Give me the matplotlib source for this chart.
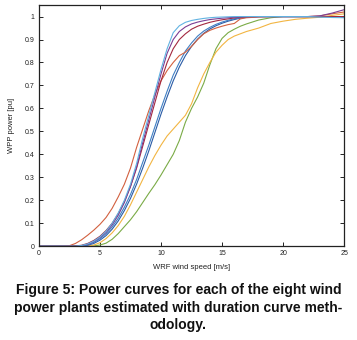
import matplotlib
matplotlib.use("Agg")
import matplotlib.pyplot as plt

plt.rcParams['font.family'] = ['Liberation Sans', 'DejaVu Sans']

wind_speed = [0, 2, 2.5, 3, 3.5, 4, 4.5, 5, 5.5, 6, 6.5, 7, 7.5, 8, 8.5, 9, 9.5, 10,
              10.5, 11, 11.5, 12, 12.5, 13, 13.5, 14, 14.5, 15, 15.5, 16, 16.5, 17,
              18, 19, 20, 21, 22, 23, 24, 25]

power_brick_red = [0, 0, 0.002, 0.012, 0.028, 0.048, 0.07, 0.095, 0.125, 0.165, 0.215, 0.27,
                   0.34, 0.43, 0.51, 0.59, 0.66, 0.72, 0.765, 0.8, 0.83, 0.845, 0.87, 0.9,
                   0.925, 0.94, 0.95, 0.958, 0.965, 0.97, 0.99, 0.995, 0.998, 1.0, 1.0, 1.0,
                   1.0, 1.003, 1.012, 1.02]
power_light_blue = [0, 0, 0, 0, 0.003, 0.01, 0.022, 0.04, 0.065, 0.1, 0.145, 0.2, 0.27, 0.36,
                    0.47, 0.57, 0.67, 0.77, 0.86, 0.93, 0.96, 0.975, 0.983, 0.988, 0.992,
                    0.995, 0.997, 0.998, 0.999, 1.0, 1.0, 1.0, 1.0, 1.0, 1.0, 1.0, 1.0, 0.998,
                    0.996, 0.995]
power_purple = [0, 0, 0, 0, 0.002, 0.008, 0.02, 0.037, 0.06, 0.093, 0.135, 0.19, 0.26, 0.345,
                0.45, 0.55, 0.65, 0.75, 0.84, 0.9, 0.935, 0.955, 0.968, 0.976, 0.982, 0.987,
                0.99, 0.993, 0.995, 0.997, 0.998, 1.0, 1.0, 1.0, 1.0, 1.0, 1.0, 1.003, 1.015,
                1.03]
power_dark_red = [0, 0, 0, 0.001, 0.004, 0.012, 0.025, 0.043, 0.068, 0.1, 0.142, 0.195, 0.26,
                  0.34, 0.435, 0.53, 0.625, 0.72, 0.8, 0.86, 0.9, 0.925, 0.945, 0.958, 0.967,
                  0.975, 0.981, 0.986, 0.99, 0.994, 0.997, 0.999, 1.0, 1.0, 1.0, 1.0, 1.0,
                  1.0, 1.0, 1.0]
power_blue = [0, 0, 0, 0, 0.001, 0.006, 0.016, 0.032, 0.054, 0.084, 0.122, 0.17, 0.225, 0.29,
              0.365, 0.44, 0.52, 0.6, 0.675, 0.745, 0.8, 0.85, 0.885, 0.915, 0.937, 0.953,
              0.966, 0.976, 0.984, 0.99, 0.995, 0.998, 1.0, 1.0, 1.0, 1.0, 1.0, 1.0, 1.0, 1.0]
power_dark_blue = [0, 0, 0, 0, 0, 0.004, 0.012, 0.026, 0.046, 0.074, 0.11, 0.155, 0.208, 0.27,
                   0.34, 0.415, 0.495, 0.575, 0.65, 0.72, 0.78, 0.83, 0.87, 0.902, 0.927,
                   0.946, 0.96, 0.971, 0.98, 0.987, 0.993, 0.997, 1.0, 1.0, 1.0, 1.0, 1.0, 1.0,
                   1.0, 1.0]
power_orange = [0, 0, 0, 0, 0, 0.001, 0.005, 0.015, 0.033, 0.058, 0.09, 0.13, 0.18, 0.235,
                0.29, 0.345, 0.395, 0.44, 0.48, 0.51, 0.54, 0.57, 0.62, 0.69, 0.75, 0.8,
                0.845, 0.875, 0.9, 0.915, 0.925, 0.935, 0.95, 0.97, 0.98, 0.988, 0.993, 0.997,
                1.005, 1.012]
power_green = [0, 0, 0, 0, 0, 0, 0.001, 0.005, 0.013, 0.03, 0.055, 0.085, 0.115, 0.15, 0.19,
               0.23, 0.268, 0.31, 0.355, 0.4, 0.46, 0.54, 0.6, 0.65, 0.71, 0.79, 0.86, 0.905,
               0.93, 0.945, 0.958, 0.968, 0.985, 0.995, 1.0, 1.0, 1.0, 1.0, 1.0, 1.0]

series = [
    (power_green, '#7aab46'),
    (power_orange, '#f2b542'),
    (power_dark_blue, '#2b5ca6'),
    (power_blue, '#3f7fc4'),
    (power_brick_red, '#d2603f'),
    (power_dark_red, '#a3283f'),
    (power_purple, '#7b3d93'),
    (power_light_blue, '#62b3e2'),
]

x_ticks = [0, 5, 10, 15, 20, 25]
y_ticks = [0, 0.1, 0.2, 0.3, 0.4, 0.5, 0.6, 0.7, 0.8, 0.9, 1]
y_tick_labels = ['0', '0.1', '0.2', '0.3', '0.4', '0.5', '0.6', '0.7', '0.8', '0.9', '1']

fig = plt.figure(figsize=(3.57, 3.40), dpi=100)
ax = fig.add_axes([0.109, 0.276, 0.855, 0.709])

for vals, col in series:
    ax.plot(wind_speed, vals, color=col, lw=0.8)

ax.set_xlim(0, 25)
ax.set_ylim(0, 1.05)
ax.set_xticks(x_ticks)
ax.set_xticklabels([str(t) for t in x_ticks])
ax.set_yticks(y_ticks)
ax.set_yticklabels(y_tick_labels)
ax.tick_params(direction='in', length=3, width=0.7, labelsize=5, pad=3,
               top=True, right=True, colors='#222222')
for s in ax.spines.values():
    s.set_linewidth(0.9)
    s.set_color('#222222')

ax.set_xlabel('WRF wind speed [m/s]', fontsize=5.5, labelpad=5, color='#222222')
ax.set_ylabel('WPP power [pu]', fontsize=5.5, labelpad=7, color='#222222')

caption = ("Figure 5: Power curves for each of the eight wind\n"
           "power plants estimated with duration curve meth-\n"
           "odology.")
fig.text(0.5, 0.095, caption, ha='center', va='center', fontsize=10, fontweight='bold',
         linespacing=1.3, color='#111111')

fig.savefig('out.png', dpi=100)
